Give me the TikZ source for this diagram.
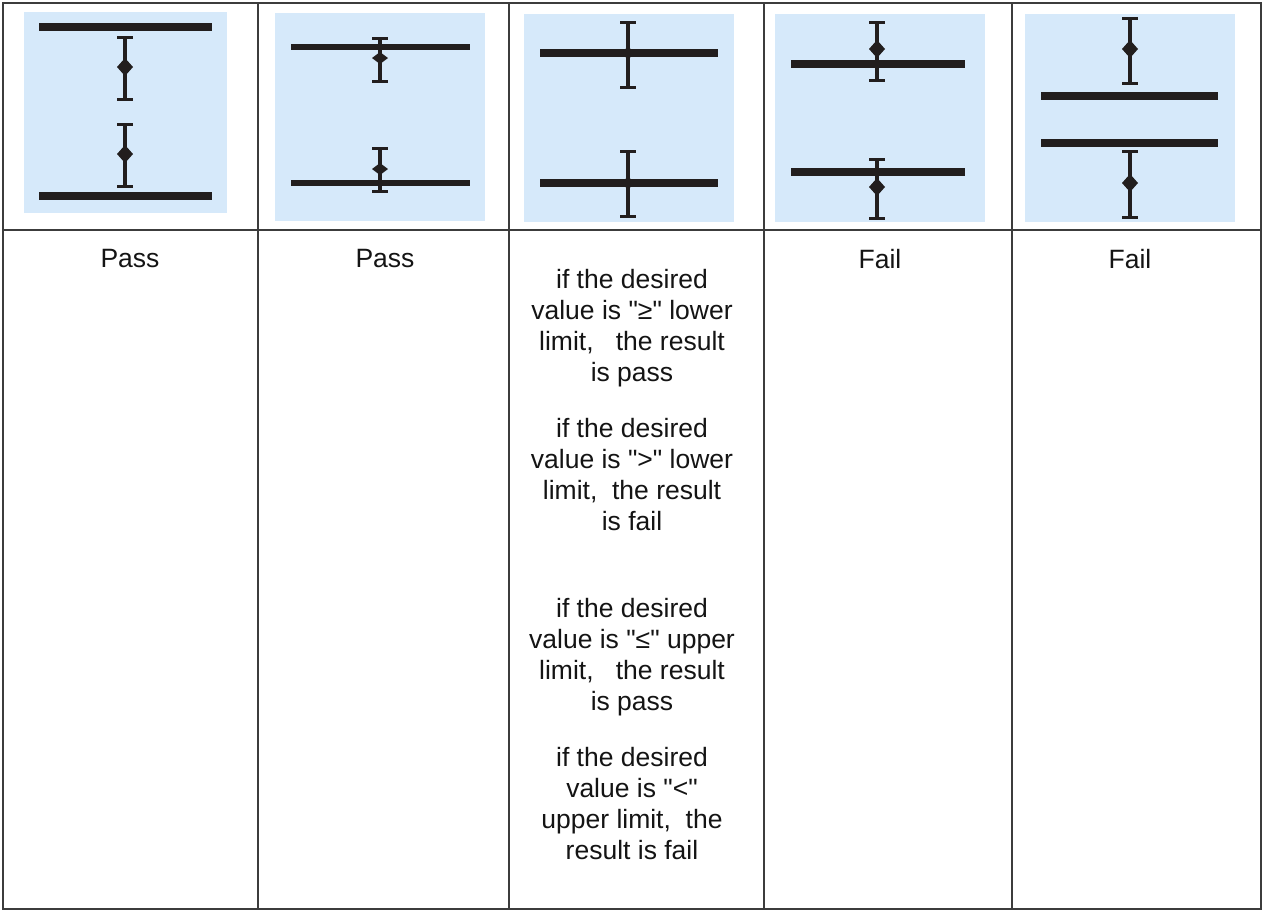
\documentclass[tikz,border=0pt]{standalone}
\usepackage{fontspec}
\newfontfamily\labfont{Liberation Sans}
\definecolor{panelblue}{RGB}{214,233,250}
\definecolor{ink}{RGB}{34,30,30}
\definecolor{rule}{RGB}{60,60,60}
\tikzset{
  panel/.style={fill=panelblue, draw=none},
  limitbar/.style={draw=ink, line width=8pt},
  thinbar/.style={draw=ink, line width=5.5pt},
  stem/.style={draw=ink, line width=3.2pt},
  errcap/.style={draw=ink, line width=3pt},
  gridline/.style={draw=rule, line width=1.4pt},
  label/.style={font=\labfont\fontsize{26.5}{31}\selectfont, align=center, inner sep=0pt, text=black!92}
}
\newcommand\errbarv[5]{% x, top, bottom, diamond y, half-height of diamond
  \draw[stem] (#1,#2) -- (#1,#3);
  \draw[errcap] (#1-8,#2) -- (#1+8,#2);
  \draw[errcap] (#1-8,#3) -- (#1+8,#3);
  \fill[ink] (#1,#4-#5) -- (#1+8,#4) -- (#1,#4+#5) -- (#1-8,#4) -- cycle;
}
\begin{document}
\begin{tikzpicture}[x=1pt,y=-1pt]
\useasboundingbox (0,0) rectangle (1264,911);
\fill[white] (0,0) rectangle (1264,911);
% panels
\fill[panel] (24,12) rectangle (227,213);
\fill[panel] (275,13) rectangle (485,221);
\fill[panel] (524,14) rectangle (734,222);
\fill[panel] (775,14) rectangle (985,222);
\fill[panel] (1025,14) rectangle (1235,222);
% panel 1
\draw[limitbar] (39,27) -- (212,27);
\draw[limitbar] (39,196) -- (212,196);
\errbarv{125}{37}{99}{67}{9}
\errbarv{125}{124}{186}{154}{9}
% panel 2
\draw[thinbar] (291,47) -- (470,47);
\draw[thinbar] (291,183) -- (470,183);
\errbarv{380}{38}{81}{58}{6}
\errbarv{380}{148}{191}{169}{6}
% panel 3
\draw[limitbar] (540,53) -- (718,53);
\draw[limitbar] (540,183) -- (718,183);
\errbarv{628}{22}{87}{53}{6}
\errbarv{628}{151}{216}{183}{6}
% panel 4
\draw[limitbar] (791,64) -- (965,64);
\draw[limitbar] (791,172) -- (965,172);
\errbarv{877}{22}{80}{49}{9}
\errbarv{877}{159}{218}{187}{9}
% panel 5
\draw[limitbar] (1041,96) -- (1218,96);
\draw[limitbar] (1041,143) -- (1218,143);
\errbarv{1130}{18}{83}{49}{9}
\errbarv{1130}{151}{217}{183}{9}
% grid
\draw[gridline] (3,3) rectangle (1261,909);
\draw[gridline] (3,230) -- (1261,230);
\foreach \x in {258,509,764,1012} \draw[gridline] (\x,3) -- (\x,909);
% labels
\node[label] (p1) at (130,259) {Pass};
\node[label] (p2) at (385,259) {Pass};
\node[label] (f4) at (880,259) {Fail};
\node[label] (f5) at (1130,259) {Fail};
\node[label] (t1) at (632,328) {if the desired\\value is "≥" lower\\limit,\ \ \ the result\\is pass};
\node[label] (t2) at (632,475) {if the desired\\value is ">" lower\\limit,\ \ the result\\is fail};
\node[label] (t3) at (632,657) {if the desired\\value is "≤" upper\\limit,\ \ \ the result\\is pass};
\node[label] (t4) at (632,804) {if the desired\\value is "<"\\upper limit,\ \ the\\result is fail};
\end{tikzpicture}
\end{document}
